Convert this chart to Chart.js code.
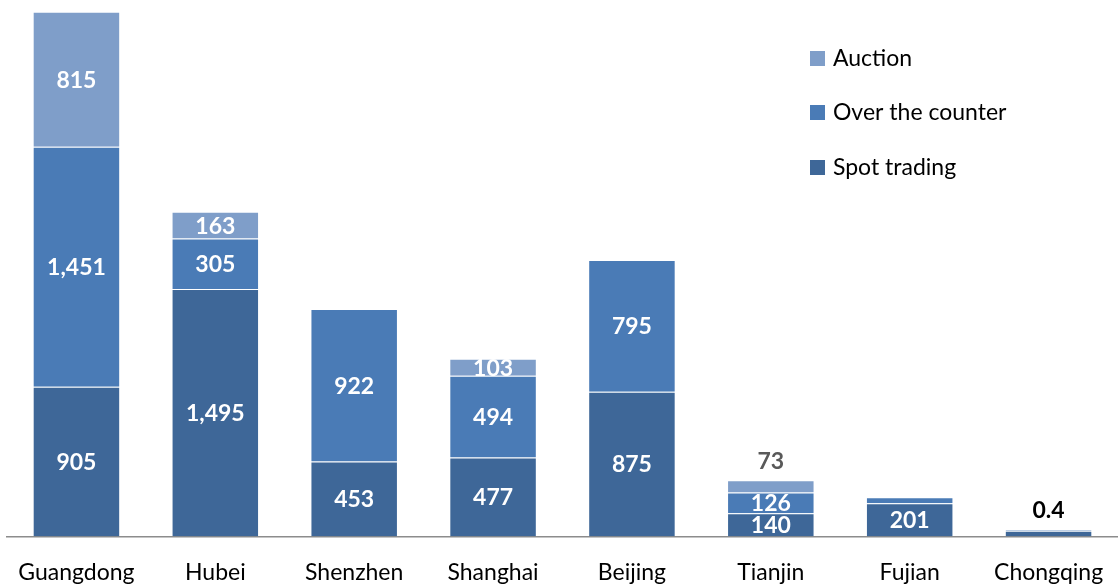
<!DOCTYPE html>
<html>
<head>
<meta charset="utf-8">
<script src="https://cdn.jsdelivr.net/npm/chart.js@4"></script>
<style>
  html, body { margin: 0; padding: 0; background: #fff; }
  #wrap { width: 1118px; height: 584px; }
</style>
</head>
<body>
<div id="wrap"><canvas id="chart" width="1118" height="584"></canvas></div>
<script>
  const regions = ['Guangdong', 'Hubei', 'Shenzhen', 'Shanghai', 'Beijing', 'Tianjin', 'Fujian', 'Chongqing'];
  const spotTrading = [905, 1495, 453, 477, 875, 140, 201, 34];
  const overTheCounter = [1451, 305, 922, 494, 795, 126, 36, 6];
  const auction = [815, 163, 0, 103, 0, 73, 0, 0];

  // text shown inside each segment ('' = nothing)
  const spotText = ['905', '1,495', '453', '477', '875', '140', '201', ''];
  const otcText = ['1,451', '305', '922', '494', '795', '126', '', ''];
  const auctionText = ['815', '163', '', '103', '', '', '', ''];
  // text shown above the bar
  const aboveText = ['', '', '', '', '', '73', '', '0.4'];

  const FONT = 'Lato, "Noto Sans", sans-serif';
  const colors = { spot: '#3e6798', otc: '#4a7bb6', auction: '#7f9ec9' };

  const labelPlugin = {
    id: 'segLabels',
    afterDatasetsDraw(chart) {
      const c = chart.ctx;
      const texts = [spotText, otcText, auctionText];
      c.save();
      c.textAlign = 'center';
      c.textBaseline = 'middle';
      c.font = 'bold 23px ' + FONT;
      c.fillStyle = '#fff';
      texts.forEach((arr, di) => {
        const meta = chart.getDatasetMeta(di);
        meta.data.forEach((bar, i) => {
          if (!arr[i]) return;
          const mid = (bar.y + bar.base) / 2;
          c.fillText(arr[i], bar.x, mid + 1);
        });
      });
      // labels above bars
      aboveText.forEach((t, i) => {
        if (!t) return;
        let top = Infinity, x = 0;
        for (let d = 0; d < 3; d++) {
          const b = chart.getDatasetMeta(d).data[i];
          top = Math.min(top, b.y);
          x = b.x;
        }
        c.fillStyle = i === 7 ? '#000' : '#595959';
        c.fillText(t, x, top - 19);
      });
      c.restore();
    }
  };

  const legendPlugin = {
    id: 'sideLegend',
    afterDraw(chart) {
      const c = chart.ctx;
      const items = [[2, 'Auction', 59], [1, 'Over the counter', 113], [0, 'Spot trading', 168]];
      c.save();
      c.font = '23px ' + FONT;
      c.textBaseline = 'middle';
      c.textAlign = 'left';
      items.forEach(([d, name, y]) => {
        c.fillStyle = chart.data.datasets[d].backgroundColor;
        c.fillRect(810, y - 8, 15, 15);
        c.fillStyle = '#000';
        c.fillText(name, 833, y);
      });
      c.restore();
    }
  };

  const ctx = document.getElementById('chart').getContext('2d');
  const chart = new Chart(ctx, {
    type: 'bar',
    data: {
      labels: regions,
      datasets: [
        { label: 'Spot trading', data: spotTrading, backgroundColor: colors.spot, borderColor: 'rgba(255,255,255,0.2)', borderWidth: 1 },
        { label: 'Over the counter', data: overTheCounter, backgroundColor: colors.otc, borderColor: 'rgba(255,255,255,0.2)', borderWidth: 1 },
        { label: 'Auction', data: auction, backgroundColor: colors.auction, borderColor: 'rgba(255,255,255,0.2)', borderWidth: 1 }
      ]
    },
    options: {
      responsive: false,
      animation: false,
      layout: { padding: { left: 7, right: -1, top: 7, bottom: -24 } },
      datasets: { bar: { barPercentage: 0.63, categoryPercentage: 1 } },
      plugins: { legend: { display: false }, tooltip: { enabled: false } },
      scales: {
        x: {
          stacked: true,
          afterFit(scale) { scale.paddingLeft = 0; scale.paddingRight = 0; },
          grid: { display: false, drawTicks: false },
          border: { display: true, color: '#8c8c8c', width: 1.5 },
          ticks: { color: '#000', font: { family: FONT, size: 23 }, padding: 22, maxRotation: 0, autoSkip: false }
        },
        y: {
          stacked: true,
          min: 0,
          max: 3200,
          display: false
        }
      }
    },
    plugins: [labelPlugin, legendPlugin]
  });
</script>
</body>
</html>
